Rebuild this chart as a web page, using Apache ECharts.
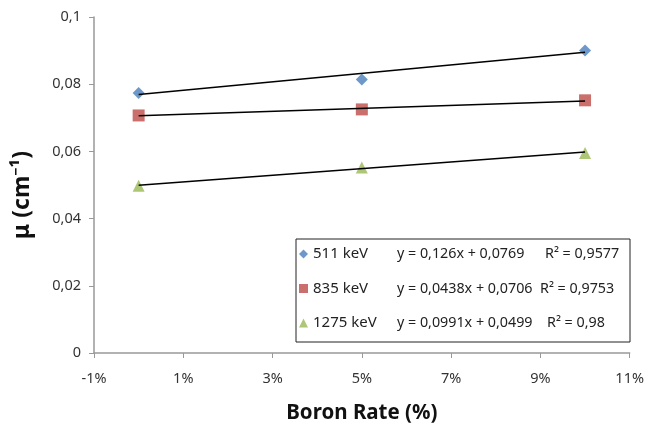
<!DOCTYPE html>
<html><head><meta charset="utf-8">
<script src="https://cdn.jsdelivr.net/npm/echarts@6/dist/echarts.min.js"></script>
<style>html,body{margin:0;padding:0;background:#fff}#c{width:647px;height:429px}</style>
</head><body><div id="c"></div>
<script>
const xValues = [0, 5, 10];
const names = ['511 keV', '835 keV', '1275 keV'];
const mu511 = [0.0774, 0.0814, 0.0900];
const mu835 = [0.0707, 0.0725, 0.0752];
const mu1275 = [0.0498, 0.0552, 0.0595];
const trendX = [0, 10];
const trend511 = [0.0769, 0.0895];
const trend835 = [0.0706, 0.0750];
const trend1275 = [0.0499, 0.0598];
const equations = ['y = 0,126x + 0,0769', 'y = 0,0438x + 0,0706', 'y = 0,0991x + 0,0499'];
const r2 = ['R² = 0,9577', 'R² = 0,9753', 'R² = 0,98'];
const colors = ['#4a7ebb', '#be4b48', '#98b954'];
const symbols = ['diamond', 'rect', 'triangle'];
const sizes = [12, 12, 12];

const FONT = 'Noto Sans';
const pts = (xs, ys) => xs.map((x, i) => [x, ys[i]]);
const dataSets = [mu511, mu835, mu1275];
const trends = [trend511, trend835, trend1275];

const series = [];
names.forEach((n, i) => {
  series.push({
    name: n, type: 'scatter', data: pts(xValues, dataSets[i]),
    symbol: symbols[i], symbolSize: sizes[i],
    itemStyle: { color: colors[i] }, z: 2
  });
});
names.forEach((n, i) => {
  series.push({
    name: n + ' trend', type: 'line', data: pts(trendX, trends[i]),
    symbol: 'none', lineStyle: { color: '#000', width: 1.5 }, z: 3, silent: true
  });
});

const txt = { fontFamily: FONT, fontSize: 14.3, color: '#222', lineHeight: 20 };
const eqW = [148, 143, 150];

const chart = echarts.init(document.getElementById('c'), null, { renderer: 'canvas' });
chart.setOption({
  animation: false,
  backgroundColor: '#fff',
  grid: { left: 94, right: 15, top: 17, bottom: 74 },
  xAxis: {
    type: 'value', min: -1, max: 11, interval: 2,
    name: 'Boron Rate (%)', nameLocation: 'middle', nameGap: 50,
    nameTextStyle: { fontFamily: FONT, fontWeight: 'bold', fontSize: 20.5, color: '#111' },
    axisLine: { show: true, onZero: false, lineStyle: { color: '#999', width: 1.5 } },
    axisTick: { show: true, inside: false, length: 5, lineStyle: { color: '#999' } },
    axisLabel: { fontFamily: FONT, fontSize: 14.5, color: '#333', margin: 18, formatter: v => v + '%' },
    splitLine: { show: false }
  },
  yAxis: {
    type: 'value', min: 0, max: 0.1, interval: 0.02,
    name: 'μ (cm⁻¹)', nameLocation: 'middle', nameGap: 60, nameRotate: 90,
    nameTextStyle: { fontFamily: FONT, fontWeight: 'bold', fontSize: 23, color: '#111', padding: [0, 20, 0, 0] },
    axisLine: { show: true, onZero: false, lineStyle: { color: '#999', width: 1.5 } },
    axisTick: { show: true, inside: false, length: 5, lineStyle: { color: '#999' } },
    axisLabel: { fontFamily: FONT, fontSize: 14.5, color: '#333', margin: 13,
      formatter: v => String(parseFloat(v.toFixed(3))).replace('.', ',') },
    splitLine: { show: false }
  },
  legend: {
    data: names.map((n, i) => ({ name: n, icon: symbols[i] })),
    orient: 'vertical', left: 296, top: 239,
    padding: [5, 2, 9, 3], itemGap: 14.5, itemWidth: 9, itemHeight: 9,
    borderColor: '#222', borderWidth: 1, backgroundColor: '#fff',
    selectedMode: false,
    textStyle: Object.assign({}, txt, {
      rich: {
        a: Object.assign({ width: 84 }, txt, { fontSize: 15 }),
        b0: Object.assign({ width: eqW[0] }, txt),
        b1: Object.assign({ width: eqW[1] }, txt),
        b2: Object.assign({ width: eqW[2] }, txt),
        c: Object.assign({ width: 81 }, txt)
      }
    }),
    formatter: n => { const i = names.indexOf(n); return '{a|' + n + '}{b' + i + '|' + equations[i] + '}{c|' + r2[i] + '}'; }
  },
  series: series
});
</script></body></html>
